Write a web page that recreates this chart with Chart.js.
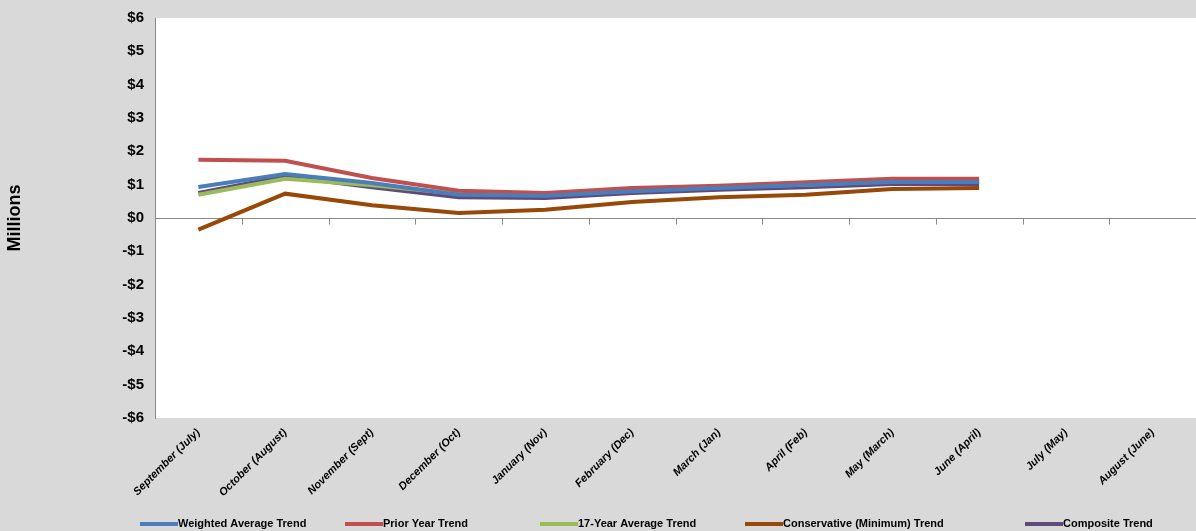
<!DOCTYPE html>
<html>
<head>
<script src="https://cdn.jsdelivr.net/npm/chart.js@4"></script>
<style>
html,body{margin:0;padding:0;background:#d9d9d9;}
#wrap{width:1196px;height:531px;}
</style>
</head>
<body>
<div id="wrap"><canvas id="myChart"></canvas></div>
<script>
var months = ['September (July)', 'October (August)', 'November (Sept)', 'December (Oct)', 'January (Nov)', 'February (Dec)', 'March (Jan)', 'April (Feb)', 'May (March)', 'June (April)', 'July (May)', 'August (June)'];
var weighted = [0.93, 1.32, 1.05, 0.70, 0.67, 0.80, 0.90, 1.00, 1.08, 1.08];
var priorYear = [1.75, 1.72, 1.20, 0.82, 0.75, 0.90, 0.97, 1.07, 1.18, 1.18];
var avg17 = [0.70, 1.18, 0.98, 0.73, 0.72, 0.85, 0.93, 1.00, 1.10, 1.10];
var conservative = [-0.35, 0.73, 0.38, 0.15, 0.25, 0.48, 0.62, 0.70, 0.87, 0.90];
var composite = [0.75, 1.25, 0.92, 0.62, 0.60, 0.75, 0.85, 0.92, 1.02, 1.02];

function series(label, data, color) {
  return {label: label, data: data, borderColor: color, backgroundColor: color,
    borderWidth: 4, pointRadius: 0, tension: 0, fill: false};
}

var plotBg = {
  id: 'plotBg',
  // white plot area on grey page
  beforeDraw: function(c) {
    var a = c.chartArea, ctx = c.ctx;
    ctx.save();
    ctx.fillStyle = '#ffffff';
    ctx.fillRect(a.left, a.top, a.right - a.left, a.bottom - a.top);
    ctx.restore();
  },
  // horizontal axis line at zero with category ticks
  beforeDatasetsDraw: function(c) {
    var a = c.chartArea, ctx = c.ctx;
    var y0 = Math.round(c.scales.y.getPixelForValue(0)) + 0.5;
    ctx.save();
    ctx.strokeStyle = '#888';
    ctx.lineWidth = 1;
    ctx.beginPath();
    ctx.moveTo(a.left, y0); ctx.lineTo(a.right, y0);
    var step = (a.right - a.left) / months.length;
    for (var i = 1; i < months.length; i++) {
      var px = Math.round(a.left + step * i) + 0.5;
      ctx.moveTo(px, y0); ctx.lineTo(px, y0 + 6);
    }
    ctx.stroke();
    ctx.restore();
  },
  // legend spread across the bottom like the original
  afterDraw: function(c) {
    var ctx = c.ctx, xs = [140, 345, 540, 745, 1025], y = 524;
    ctx.save();
    ctx.font = 'bold 11px "Liberation Sans Narrow", sans-serif';
    ctx.textBaseline = 'middle';
    c.data.datasets.forEach(function(d, i) {
      ctx.fillStyle = d.borderColor;
      ctx.fillRect(xs[i], y - 2, 38, 4);
      ctx.fillStyle = '#000';
      ctx.fillText(d.label, xs[i] + 38, y);
    });
    ctx.restore();
  }
};

var chart = new Chart(document.getElementById('myChart'), {
  type: 'line',
  data: {
    labels: months,
    datasets: [
      series('Weighted Average Trend', weighted, '#4a7ebb'),
      series('Prior Year Trend', priorYear, '#c0504d'),
      series('17-Year Average Trend', avg17, '#9bbb59'),
      series('Conservative (Minimum) Trend', conservative, '#984807'),
      series('Composite Trend', composite, '#604a7b')
    ]
  },
  options: {
    responsive: true,
    maintainAspectRatio: false,
    animation: false,
    layout: {padding: {top: 18, right: -12, left: 0, bottom: 0}},
    plugins: {
      legend: {display: false},
      tooltip: {enabled: false}
    },
    scales: {
      x: {
        offset: true,
        grid: {display: false},
        border: {display: false},
        afterFit: function(s) { s.height = 113; },
        ticks: {maxRotation: 45, minRotation: 45, color: '#000', padding: 0,
          font: {family: 'Liberation Sans Narrow, sans-serif', size: 11, weight: 'bold', style: 'italic'}}
      },
      y: {
        min: -6, max: 6,
        grid: {display: false},
        border: {color: '#888'},
        afterFit: function(s) { s.width = 155; },
        ticks: {stepSize: 1, color: '#000',
          font: {family: 'Liberation Sans, Arial, sans-serif', size: 15, weight: 'bold'},
          callback: function(v) { return (v < 0 ? '-$' : '$') + Math.abs(v); }},
        title: {display: true, text: 'Millions', color: '#000', padding: {bottom: 56},
          font: {family: 'Liberation Sans, Arial, sans-serif', size: 18, weight: 'bold'}}
      }
    }
  },
  plugins: [plotBg]
});
</script>
</body>
</html>
